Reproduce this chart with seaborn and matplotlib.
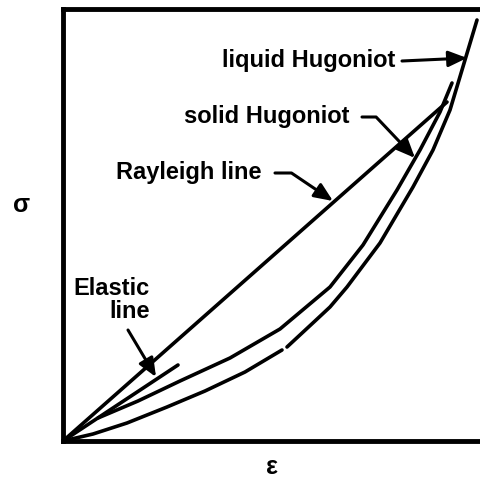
import matplotlib
matplotlib.use("Agg")
import matplotlib.pyplot as plt
import seaborn as sns

# Curve values (strain on x, stress on y, arbitrary units)
rayleigh_eps = [0, 384]
rayleigh_sig = [0, 339]

elastic_eps = [0, 115]
elastic_sig = [0, 76]

solid_eps = [35, 75, 117, 167, 217, 267, 300, 334, 357, 377, 389]
solid_sig = [23, 40, 60, 83, 112, 154, 196, 251, 291, 329, 358]

# liquid Hugoniot has a small break in the drawing, so two pieces
liquid_eps_a = [0, 30, 64, 104, 142, 182, 219]
liquid_sig_a = [0, 7, 18, 34, 50, 69, 91]
liquid_eps_b = [224, 252, 267, 284, 317, 350, 370, 387, 402, 414]
liquid_sig_b = [94, 120, 134, 154, 198, 254, 291, 331, 381, 421]

# labels: (text, text x, text y, arrow start x, arrow start y, tip x, tip y, bend angle)
labels = [
    ("liquid Hugoniot", 332, 381, 339, 380, 404, 383, None),
    ("solid Hugoniot", 287, 324, 299, 324, 352, 283, 133.5),
    ("Rayleigh line", 199, 269, 212, 268, 270, 240, 146),
]


def draw_curves(ax):
    kw = dict(color="black", lw=2.6, estimator=None, legend=False, ax=ax)
    sns.lineplot(x=rayleigh_eps, y=rayleigh_sig, **kw)
    sns.lineplot(x=elastic_eps, y=elastic_sig, **kw)
    sns.lineplot(x=solid_eps, y=solid_sig, **kw)
    sns.lineplot(x=liquid_eps_a, y=liquid_sig_a, **kw)
    sns.lineplot(x=liquid_eps_b, y=liquid_sig_b, **kw)


def draw_labels(ax):
    arrow = "-|>,head_length=0.7,head_width=0.3"
    for text, tx, ty, ax0, ay0, bx, by, bend in labels:
        ax.text(tx, ty, text, ha="right", va="center", fontsize=17, fontweight="bold")
        if bend is None:
            conn = "arc3,rad=0"
        else:
            conn = "angle,angleA=0,angleB=%s,rad=0" % bend
        ax.annotate("", xy=(bx, by), xytext=(ax0, ay0),
                    arrowprops=dict(arrowstyle=arrow, color="black", lw=2.2,
                                    mutation_scale=16, shrinkA=0, shrinkB=0,
                                    connectionstyle=conn))

    ax.text(87, 141, "Elastic\nline", ha="right", va="center", multialignment="right",
            fontsize=17, fontweight="bold", linespacing=1.05)
    ax.annotate("", xy=(93, 64), xytext=(65, 111),
                arrowprops=dict(arrowstyle=arrow, color="black", lw=2.2,
                                mutation_scale=16, shrinkA=0, shrinkB=0))


def main():
    sns.set_style("white")
    plt.rcParams["font.family"] = ["Liberation Sans", "DejaVu Sans"]
    plt.rcParams["text.color"] = "black"

    fig = plt.figure(figsize=(4.81, 4.88), dpi=100)
    ax = fig.add_axes([63 / 481, 47 / 488, 418 / 481, 432 / 488])

    draw_curves(ax)
    draw_labels(ax)

    ax.set_xlim(0, 418)
    ax.set_ylim(0, 432)
    ax.set_xticks([])
    ax.set_yticks([])
    ax.set_xlabel("")
    ax.set_ylabel("")
    for side in ["left", "bottom", "top"]:
        ax.spines[side].set_linewidth(3.5)
        ax.spines[side].set_color("black")
    ax.spines["right"].set_visible(False)

    # axis symbols sit out in the margins
    ax.text(-41, 236, "σ", ha="center", va="center", fontsize=18, fontweight="bold",
            clip_on=False)
    ax.text(209, -26, "ε", ha="center", va="center", fontsize=18, fontweight="bold",
            clip_on=False)

    fig.savefig("out.png", dpi=100)


if __name__ == "__main__":
    main()
